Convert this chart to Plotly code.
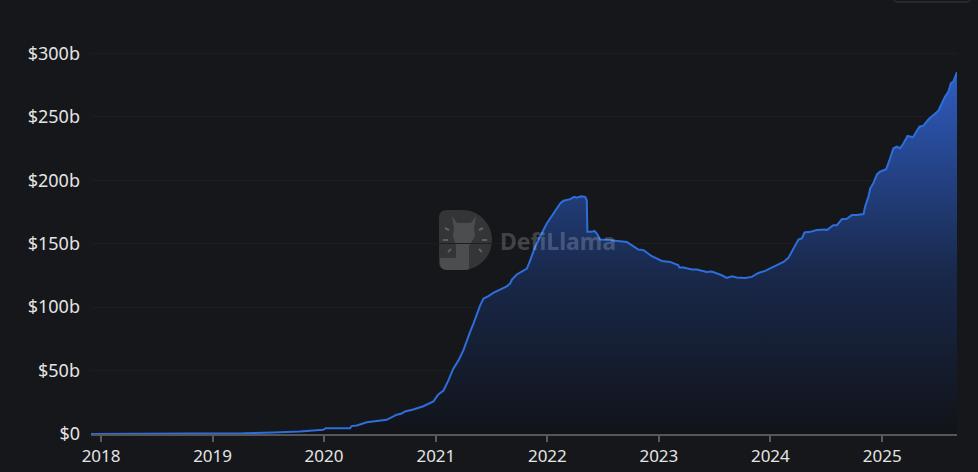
import plotly.graph_objects as go

# ---- data (TVL in $ billions) ----
dates = [
    "2017-11-29", "2018-03-01", "2018-06-10", "2018-09-15", "2018-12-30", "2019-02-15",
    "2019-04-11", "2019-07-18", "2019-09-22", "2019-10-14", "2019-12-29", "2020-01-07",
    "2020-03-26", "2020-03-31", "2020-04-17", "2020-05-20", "2020-07-24", "2020-08-26",
    "2020-09-11", "2020-09-22", "2020-10-19", "2020-11-21", "2020-12-24", "2021-01-09",
    "2021-01-26", "2021-02-11", "2021-02-27", "2021-03-16", "2021-04-01", "2021-04-12",
    "2021-04-23", "2021-05-04", "2021-05-15", "2021-05-26", "2021-06-06", "2021-06-22",
    "2021-07-08", "2021-07-30", "2021-08-21", "2021-09-01", "2021-09-07", "2021-09-23",
    "2021-10-26", "2021-11-06", "2021-11-22", "2021-12-08", "2021-12-30", "2022-01-21",
    "2022-02-12", "2022-02-23", "2022-03-17", "2022-03-30", "2022-04-07", "2022-04-22",
    "2022-05-05", "2022-05-10", "2022-05-12", "2022-05-26", "2022-06-04", "2022-06-12",
    "2022-06-23", "2022-07-20", "2022-08-22", "2022-09-18", "2022-10-04", "2022-10-26",
    "2022-11-12", "2022-12-09", "2023-01-11", "2023-02-07", "2023-03-06", "2023-03-09",
    "2023-03-23", "2023-04-19", "2023-05-05", "2023-06-07", "2023-06-23", "2023-07-10",
    "2023-07-26", "2023-08-11", "2023-08-28", "2023-09-13", "2023-10-10", "2023-11-01",
    "2023-11-23", "2023-12-15", "2023-12-31", "2024-01-17", "2024-02-13", "2024-02-29",
    "2024-03-17", "2024-04-02", "2024-04-13", "2024-04-22", "2024-05-10", "2024-06-01",
    "2024-06-28", "2024-07-04", "2024-07-25", "2024-08-06", "2024-08-22", "2024-09-07",
    "2024-09-24", "2024-10-10", "2024-11-01", "2024-11-06", "2024-11-17", "2024-11-23",
    "2024-12-03", "2024-12-15", "2024-12-25", "2025-01-14", "2025-01-25", "2025-02-07",
    "2025-02-18", "2025-03-01", "2025-03-12", "2025-03-25", "2025-04-12", "2025-05-03",
    "2025-05-16", "2025-06-02", "2025-06-18", "2025-07-04", "2025-07-26", "2025-08-06",
    "2025-08-14", "2025-08-22", "2025-09-03",
]
tvl = [
    0.02, 0.05, 0.1, 0.2, 0.3, 0.4,
    0.5, 1.2, 1.7, 2.0, 3.3, 4.6,
    4.6, 6.2, 6.7, 9.3, 11.2, 15.2,
    16.1, 17.8, 19.3, 21.9, 25.7, 31.2,
    34.3, 42.2, 51.5, 58.0, 65.9, 73.8,
    80.4, 87.0, 94.9, 101.4, 106.7, 108.6,
    111.2, 113.8, 116.4, 118.6, 121.7, 125.7,
    130.4, 137.0, 147.5, 155.4, 165.9, 173.8,
    181.7, 183.8, 185.1, 186.9, 186.2, 187.3,
    186.9, 184.3, 159.3, 159.3, 160.1, 158.0,
    153.3, 152.8, 152.2, 151.4, 148.8, 145.4,
    144.9, 140.1, 136.4, 135.6, 133.0, 131.2,
    131.2, 129.6, 129.6, 127.7, 128.0, 126.5,
    125.1, 123.0, 124.3, 123.3, 123.0, 123.8,
    126.9, 128.5, 130.4, 133.0, 135.6, 138.8,
    146.2, 153.3, 154.1, 158.8, 159.3, 160.7,
    161.2, 160.7, 164.6, 164.6, 169.3, 169.6,
    172.5, 172.5, 173.3, 179.0, 187.0, 193.6,
    197.5, 204.6, 206.7, 208.6, 215.9, 225.2,
    226.4, 225.2, 229.1, 234.9, 233.9, 242.2,
    243.0, 248.0, 251.4, 254.8, 265.9, 269.8,
    276.5, 277.7, 285.1,
]
y_ticks = [0, 50, 100, 150, 200, 250, 300]
y_tick_labels = ["$0", "$50b", "$100b", "$150b", "$200b", "$250b", "$300b"]
x_range = ["2017-11-29", "2025-09-03"]

BG = "#16171a"
FONT = "Noto Sans"

# ---- layout geometry (pixels) ----
W, H = 978, 472
ML, MR, MT, MB = 91, 21, 40, 38
PW, PH = W - ML - MR, H - MT - MB


def X(px):
    return (px - ML) / PW


def Y(py):
    return (H - MB - py) / PH


def path(cmds):
    out = []
    for c, pts in cmds:
        coords = []
        for i in range(0, len(pts), 2):
            coords.append(f"{X(pts[i]):.5f},{Y(pts[i+1]):.5f}")
        out.append(c + " " + " ".join(coords))
    return " ".join(out)


fig = go.Figure()
fig.add_trace(go.Scatter(
    x=dates, y=tvl, mode="lines",
    line=dict(color="#2e6edc", width=2),
    fill="tozeroy",
    fillgradient=dict(
        type="vertical",
        colorscale=[[0, "#111318"], [0.45, "#19294c"], [1, "#2f5cc0"]],
    ),
    hoverinfo="skip", showlegend=False,
))

# watermark logo (D shape + llama)
d_path = path([
    ("M", [447, 210]), ("L", [462, 210]),
    ("C", [478.6, 210, 492, 223.4, 492, 240]),
    ("C", [492, 256.6, 478.6, 270, 462, 270]),
    ("L", [447, 270]), ("Q", [439, 270, 439, 262]),
    ("L", [439, 218]), ("Q", [439, 210, 447, 210]), ("Z", []),
])
llama_path = path([
    ("M", [452, 216]), ("L", [457, 223]), ("L", [471, 223]), ("L", [476, 216]),
    ("L", [474, 228]), ("L", [475, 236]), ("L", [469, 246]), ("L", [469, 270]),
    ("L", [447, 270]), ("Q", [440, 270, 440, 263]), ("L", [440, 258]),
    ("L", [456, 258]), ("L", [456, 246]),
    ("L", [453, 236]), ("L", [454, 228]), ("Z", []),
])
shapes = [
    dict(type="path", xref="paper", yref="paper", path=d_path,
         fillcolor="rgba(255,255,255,0.13)", line=dict(width=0), layer="below"),
    dict(type="path", xref="paper", yref="paper", path=llama_path,
         fillcolor="rgba(255,255,255,0.12)", line=dict(width=0), layer="below"),
]
for (x0, y0, x1, y1) in [(445, 228, 449, 230), (443, 240, 448, 240), (448, 252, 451, 249),
                         (479, 230, 483, 228), (482, 240, 487, 240), (479, 249, 482, 252)]:
    shapes.append(dict(type="line", xref="paper", yref="paper",
                       x0=X(x0), y0=Y(y0), x1=X(x1), y1=Y(y1),
                       line=dict(color="rgba(255,255,255,0.22)", width=2), layer="below"))
# partially visible control box at top right
shapes.append(dict(type="path", xref="paper", yref="paper",
                   path=path([("M", [893, -20]), ("L", [893, -3]), ("Q", [893, 2, 898, 2]),
                              ("L", [966, 2]), ("Q", [971, 2, 971, -3]), ("L", [971, -20])]),
                   line=dict(color="#3a3b40", width=1)))

fig.update_layout(
    width=W, height=H,
    margin=dict(l=ML, r=MR, t=MT, b=MB, autoexpand=False),
    paper_bgcolor=BG, plot_bgcolor=BG,
    font=dict(family=FONT, size=17, color="#e4e4e4"),
    shapes=shapes,
    annotations=[dict(
        text="<b>DefiLlama</b>", xref="paper", yref="paper",
        x=X(558), y=Y(241), xanchor="center", yanchor="middle", showarrow=False,
        font=dict(family=FONT, size=23, color="rgba(255,255,255,0.20)"),
    )],
    xaxis=dict(
        type="date", range=x_range,
        tick0="2018-01-01", dtick="M12", tickformat="%Y",
        showgrid=False, zeroline=False, automargin=False,
        showline=True, linecolor="#55565b", linewidth=1.5,
        ticks="outside", ticklen=6, tickwidth=1.5, tickcolor="#5a5b60",
        fixedrange=True,
    ),
    yaxis=dict(
        range=[0, 310.5],
        tickvals=y_ticks, ticktext=y_tick_labels,
        showgrid=True, gridcolor="#1d1e22", gridwidth=1,
        zeroline=False, showline=False, ticks="", automargin=False,
        ticklabelstandoff=10,
        tickfont=dict(size=18),
        fixedrange=True,
    ),
)

fig.write_html(
    "out.html",
    config={"displayModeBar": False},
    post_script="document.body.style.margin='0';document.body.style.background='#16171a';",
)
